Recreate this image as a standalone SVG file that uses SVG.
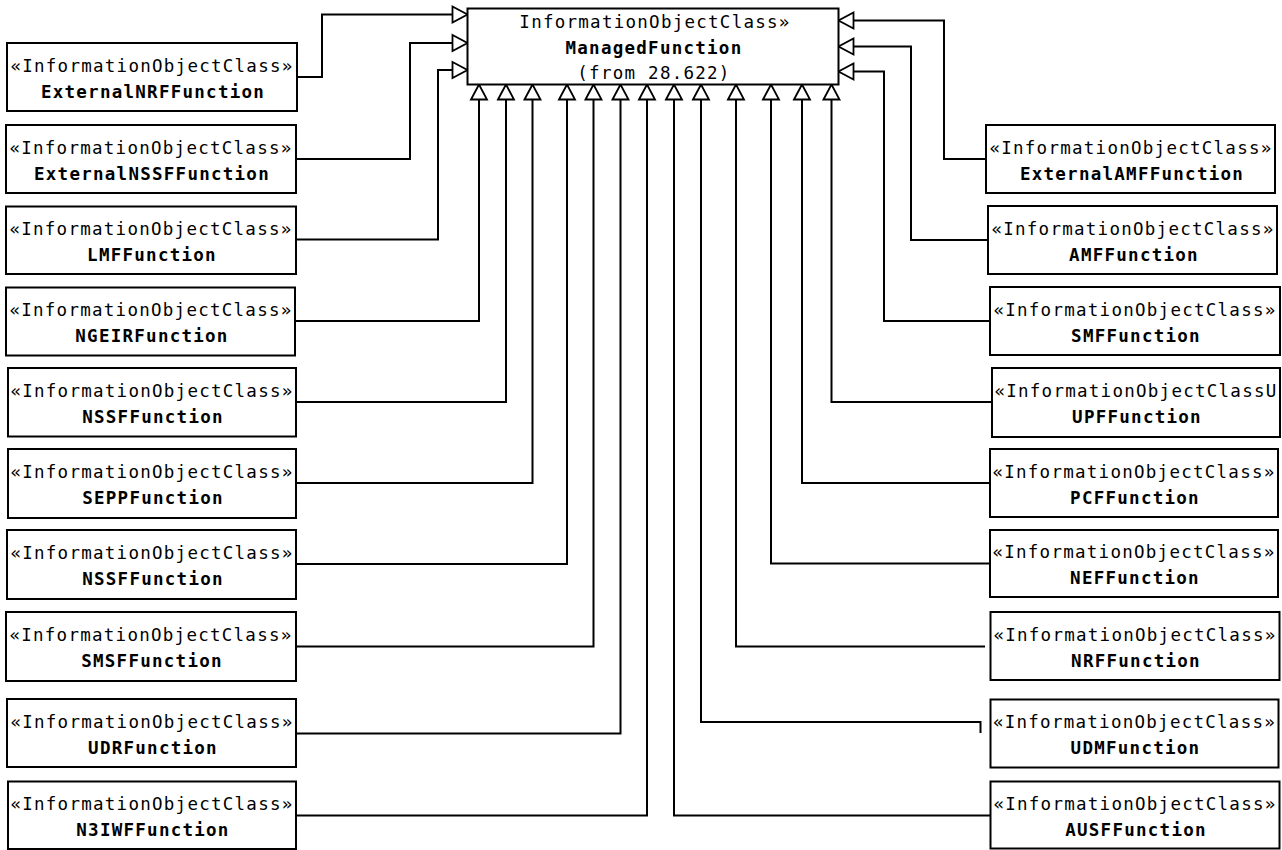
<svg xmlns="http://www.w3.org/2000/svg" width="1282" height="850" viewBox="0 0 1282 850">
<style>
.box{fill:#fff;stroke:#000;stroke-width:2}
.st{font-family:"DejaVu Sans Mono","Liberation Mono",monospace;font-size:17.5px;letter-spacing:1.26px;text-anchor:middle;fill:#000}
.nm{font-family:"DejaVu Sans Mono","Liberation Mono",monospace;font-size:17.5px;font-weight:bold;letter-spacing:1.26px;text-anchor:middle;fill:#000}
.c{fill:none;stroke:#000;stroke-width:2}
.g{marker-end:url(#tri)}
</style>
<defs>
<marker id="tri" markerUnits="userSpaceOnUse" markerWidth="18" markerHeight="18" refX="15.5" refY="8.5" orient="auto" overflow="visible">
<path d="M0.5,0.5 L15.5,8.5 L0.5,16.5 Z" fill="#fff" stroke="#000" stroke-width="1.8"/>
</marker>
</defs>
<rect width="1282" height="850" fill="#fff"/>
<g id="connectors">
<path class="c g" d="M297,77 H322 V14.5 H467.5"/>
<path class="c g" d="M296,159 H410 V43 H467.5"/>
<path class="c g" d="M296,239.5 H438 V70 H467.5"/>
<path class="c g" d="M295,321 H479 V84.5"/>
<path class="c g" d="M296,402 H506 V84.5"/>
<path class="c g" d="M296,483 H532.5 V84.5"/>
<path class="c g" d="M296,564 H567 V84.5"/>
<path class="c g" d="M296,646.5 H593.5 V84.5"/>
<path class="c g" d="M296,733.5 H620.5 V84.5"/>
<path class="c g" d="M296,815.5 H647 V84.5"/>
<path class="c g" d="M990.5,815.5 H674 V84.5"/>
<path class="c g" d="M980.5,733 V722 H701 V84.5"/>
<path class="c g" d="M985,646.5 H736 V84.5"/>
<path class="c g" d="M990,563.5 H771 V84.5"/>
<path class="c g" d="M990,483 H802 V84.5"/>
<path class="c g" d="M992,402 H831.5 V84.5"/>
<path class="c g" d="M990,321 H884 V71.5 H838.5"/>
<path class="c g" d="M988,240 H911 V46.5 H838.5"/>
<path class="c g" d="M986,159 H944 V20.5 H838.5"/>
</g>
<g id="ManagedFunction">
<rect class="box" x="467.5" y="8.5" width="371" height="76"/>
<text class="st" x="655" y="27.5">InformationObjectClass»</text>
<text class="nm" x="654" y="53.5">ManagedFunction</text>
<text class="st" x="654" y="78.5">(from 28.622)</text>
</g>
<g id="ExternalNRFFunction">
<rect class="box" x="7" y="43" width="290" height="68"/>
<text class="st" x="152" y="71.5">«InformationObjectClass»</text>
<text class="nm" x="153" y="97.5">ExternalNRFFunction</text>
</g>
<g id="ExternalNSSFFunction">
<rect class="box" x="6" y="125" width="290" height="68"/>
<text class="st" x="151" y="153.5">«InformationObjectClass»</text>
<text class="nm" x="152" y="179.5">ExternalNSSFFunction</text>
</g>
<g id="LMFFunction">
<rect class="box" x="6" y="206.5" width="290" height="67.5"/>
<text class="st" x="151" y="235">«InformationObjectClass»</text>
<text class="nm" x="152" y="261">LMFFunction</text>
</g>
<g id="NGEIRFunction">
<rect class="box" x="6" y="287.5" width="289" height="68"/>
<text class="st" x="151" y="316">«InformationObjectClass»</text>
<text class="nm" x="152" y="342">NGEIRFunction</text>
</g>
<g id="NSSFFunction1">
<rect class="box" x="8" y="368" width="288" height="68.5"/>
<text class="st" x="152" y="396.5">«InformationObjectClass»</text>
<text class="nm" x="153" y="422.5">NSSFFunction</text>
</g>
<g id="SEPPFunction">
<rect class="box" x="8" y="449" width="288" height="69"/>
<text class="st" x="152" y="477.5">«InformationObjectClass»</text>
<text class="nm" x="153" y="503.5">SEPPFunction</text>
</g>
<g id="NSSFFunction2">
<rect class="box" x="7" y="530" width="289" height="69"/>
<text class="st" x="152" y="558.5">«InformationObjectClass»</text>
<text class="nm" x="153" y="584.5">NSSFFunction</text>
</g>
<g id="SMSFFunction">
<rect class="box" x="6" y="612" width="290" height="69"/>
<text class="st" x="151" y="640.5">«InformationObjectClass»</text>
<text class="nm" x="152" y="666.5">SMSFFunction</text>
</g>
<g id="UDRFunction">
<rect class="box" x="7" y="699" width="289" height="68"/>
<text class="st" x="152" y="727.5">«InformationObjectClass»</text>
<text class="nm" x="153" y="753.5">UDRFunction</text>
</g>
<g id="N3IWFFunction">
<rect class="box" x="8" y="781.5" width="288" height="67.5"/>
<text class="st" x="152" y="810">«InformationObjectClass»</text>
<text class="nm" x="153" y="836">N3IWFFunction</text>
</g>
<g id="ExternalAMFFunction">
<rect class="box" x="986" y="125" width="289" height="68"/>
<text class="st" x="1131" y="153.5">«InformationObjectClass»</text>
<text class="nm" x="1132" y="179.5">ExternalAMFFunction</text>
</g>
<g id="AMFFunction">
<rect class="box" x="988" y="206" width="289" height="68"/>
<text class="st" x="1133" y="234.5">«InformationObjectClass»</text>
<text class="nm" x="1134" y="260.5">AMFFunction</text>
</g>
<g id="SMFFunction">
<rect class="box" x="990" y="287" width="290" height="68"/>
<text class="st" x="1135" y="315.5">«InformationObjectClass»</text>
<text class="nm" x="1136" y="341.5">SMFFunction</text>
</g>
<g id="UPFFunction">
<rect class="box" x="992" y="368" width="288" height="69"/>
<text class="st" x="1136" y="396.5">«InformationObjectClassU</text>
<text class="nm" x="1137" y="422.5">UPFFunction</text>
</g>
<g id="PCFFunction">
<rect class="box" x="990" y="449" width="288" height="68"/>
<text class="st" x="1134" y="477.5">«InformationObjectClass»</text>
<text class="nm" x="1135" y="503.5">PCFFunction</text>
</g>
<g id="NEFFunction">
<rect class="box" x="990" y="530" width="288" height="67"/>
<text class="st" x="1134" y="558">«InformationObjectClass»</text>
<text class="nm" x="1135" y="584">NEFFunction</text>
</g>
<g id="NRFFunction">
<rect class="box" x="990.5" y="612" width="289" height="68"/>
<text class="st" x="1135" y="640.5">«InformationObjectClass»</text>
<text class="nm" x="1136" y="666.5">NRFFunction</text>
</g>
<g id="UDMFunction">
<rect class="box" x="990.5" y="699.5" width="288" height="68"/>
<text class="st" x="1134.5" y="728">«InformationObjectClass»</text>
<text class="nm" x="1135.5" y="754">UDMFunction</text>
</g>
<g id="AUSFFunction">
<rect class="box" x="990.5" y="781.5" width="289" height="67"/>
<text class="st" x="1135" y="810">«InformationObjectClass»</text>
<text class="nm" x="1136" y="836">AUSFFunction</text>
</g>
</svg>
